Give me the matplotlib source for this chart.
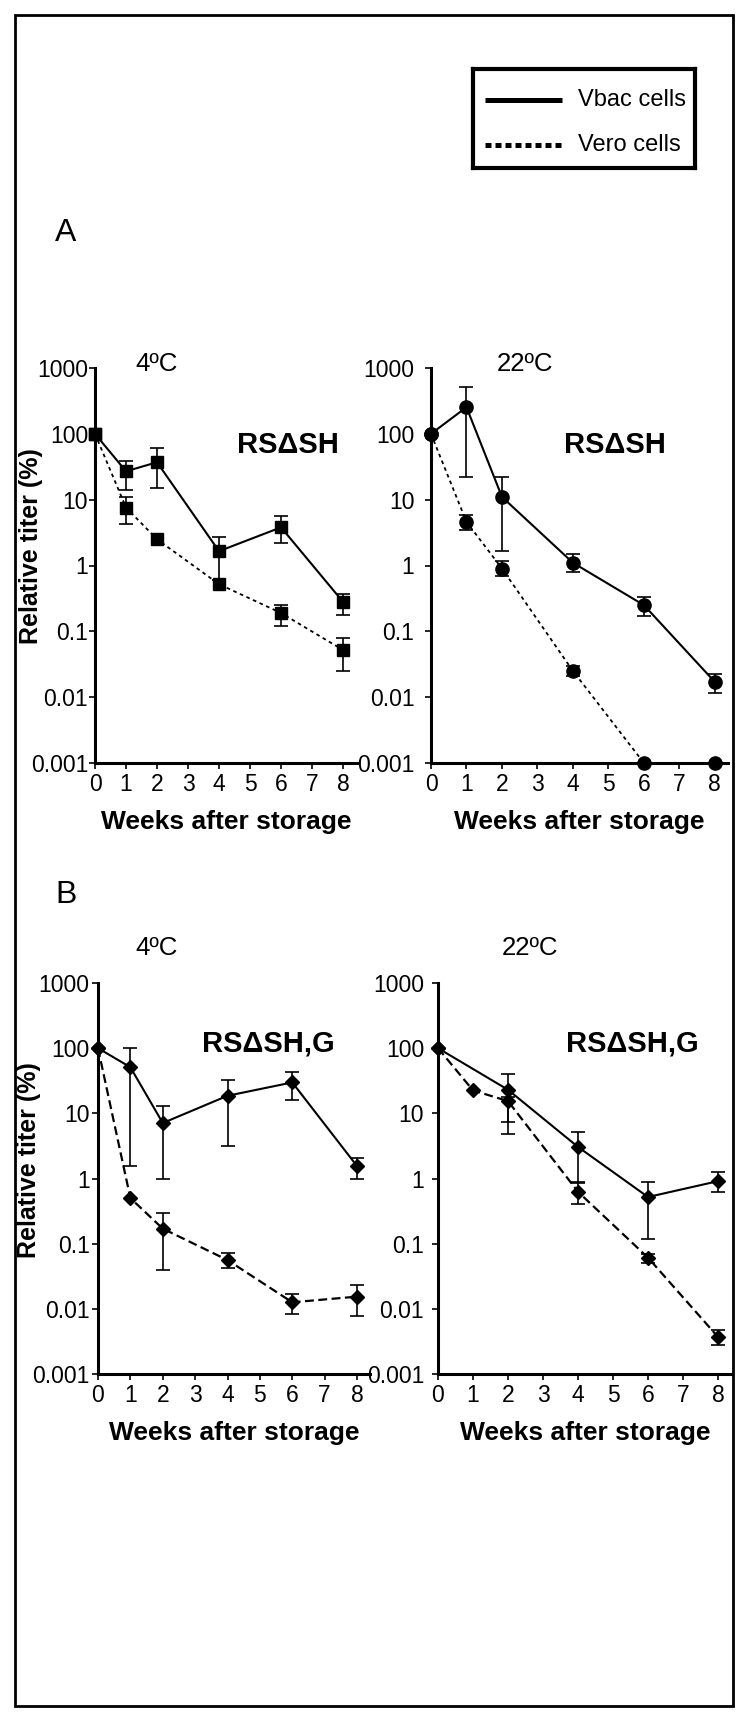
import numpy as np
import matplotlib
matplotlib.use("Agg")
import matplotlib.pyplot as plt
from matplotlib.patches import Rectangle

plt.rcParams['font.family'] = ['Liberation Sans', 'DejaVu Sans']

nan = np.nan

# data (relative titer in %)
weeks = [0, 1, 2, 4, 6, 8]
week_ticks = [0, 1, 2, 3, 4, 5, 6, 7, 8]
titer_ticks = [0.001, 0.01, 0.1, 1, 10, 100, 1000]
titer_labels = ["0.001", "0.01", "0.1", "1", "10", "100", "1000"]

# A, 4 C
vbac_a4 = [100, 27, 37, 1.65, 3.8, 0.28]
vbac_a4_lo = [nan, 14, 15, 0.6, 2.2, 0.18]
vbac_a4_hi = [nan, 39, 60, 2.7, 5.7, 0.37]
vero_a4 = [100, 7.6, 2.5, 0.52, 0.19, 0.052]
vero_a4_lo = [nan, 4.3, nan, nan, 0.12, 0.025]
vero_a4_hi = [nan, 10.8, nan, nan, 0.25, 0.078]

# A, 22 C
vbac_a22 = [100, 254, 11, 1.1, 0.25, 0.017]
vbac_a22_lo = [nan, 22, 1.65, 0.79, 0.17, 0.0116]
vbac_a22_hi = [nan, 518, 22, 1.47, 0.33, 0.0226]
vero_a22 = [100, 4.6, 0.9, 0.025, 0.001, 0.001]
vero_a22_lo = [nan, 3.5, 0.69, 0.021, nan, nan]
vero_a22_hi = [nan, 5.75, 1.16, 0.030, nan, nan]

# B, 4 C
vbac_b4 = [100, 51, 7.1, 18.6, 29.8, 1.55]
vbac_b4_lo = [nan, 1.58, 1.0, 3.2, 15.8, 1.0]
vbac_b4_hi = [nan, 100, 13.1, 32.7, 43, 2.07]
vero_b4 = [100, 0.5, 0.17, 0.056, 0.0126, 0.0154]
vero_b4_lo = [nan, nan, 0.040, 0.042, 0.0082, 0.0078]
vero_b4_hi = [nan, nan, 0.30, 0.071, 0.0169, 0.023]

# B, 22 C (no week 1 point for Vbac)
weeks_b22_vbac = [0, 2, 4, 6, 8]
vbac_b22 = [100, 23, 3.05, 0.52, 0.91]
vbac_b22_lo = [nan, 7.4, 0.87, 0.116, 0.61]
vbac_b22_hi = [nan, 39.5, 5.2, 0.89, 1.24]
vero_b22 = [100, 22.5, 15.4, 0.625, 0.061, 0.0037]
vero_b22_lo = [nan, nan, 4.8, 0.41, 0.050, 0.0028]
vero_b22_hi = [nan, nan, 18, 0.85, 0.070, 0.0047]

W, H = 750.0, 1722.0


def px_axes(fig, left, top, right, bottom):
    # axes from pixel box of the reference
    return fig.add_axes([left / W, 1 - bottom / H, (right - left) / W, (bottom - top) / H])


def draw_series(ax, x, y, lo, hi, marker, ms, ls, lw):
    x = np.array(x, float)
    y = np.array(y, float)
    lo = np.array(lo, float)
    hi = np.array(hi, float)
    ax.plot(x, y, color='black', linestyle=ls, linewidth=lw, marker=marker,
            markersize=ms, markerfacecolor='black', markeredgecolor='black',
            clip_on=False, zorder=3)
    ok = np.isfinite(lo)
    if ok.any():
        yerr = [y[ok] - lo[ok], hi[ok] - y[ok]]
        ax.errorbar(x[ok], y[ok], yerr=yerr, fmt='none', ecolor='black',
                    elinewidth=1.2, capsize=5, capthick=1.2, clip_on=False, zorder=2)


def style_axes(ax, xmax, ypad=1, ylabel_x=None):
    ax.set_yscale('log')
    ax.set_ylim(0.001, 1000)
    ax.set_xlim(0, xmax)
    ax.set_yticks(titer_ticks)
    ax.set_yticklabels(titer_labels)
    ax.minorticks_off()
    ax.set_xticks(week_ticks)
    ax.set_xticklabels([str(w) for w in week_ticks])
    for side in ['top', 'right']:
        ax.spines[side].set_visible(False)
    for side in ['left', 'bottom']:
        ax.spines[side].set_linewidth(2.2)
    ax.tick_params(axis='both', direction='out', length=4, width=1.2,
                   labelsize=16.5, pad=3)
    ax.tick_params(axis='y', pad=ypad)
    ax.set_xlabel("Weeks after storage", fontsize=19, fontweight='bold', labelpad=10)
    if ylabel_x is not None:
        ax.set_ylabel("Relative titer (%)", fontsize=18, fontweight='bold')
        ax.yaxis.label.set_va('center')
        ax.yaxis.set_label_coords(ylabel_x, 0.548)


fig = plt.figure(figsize=(7.5, 17.22), dpi=100)

# outer frame
fig.patches.append(Rectangle((15 / W, 1 - 1706 / H), (733 - 15) / W, (1706 - 15) / H,
                             transform=fig.transFigure, fill=False, lw=2, color='black'))

# legend box
lg = px_axes(fig, 473, 69, 695, 168)
lg.set_xlim(0, 1)
lg.set_ylim(0, 1)
lg.set_xticks([])
lg.set_yticks([])
for s in lg.spines.values():
    s.set_linewidth(3)
lg.plot([0.054, 0.40], [0.687, 0.687], color='black', lw=3.6, solid_capstyle='butt')
lg.plot([0.054, 0.40], [0.232, 0.232], color='black', lw=3.6,
        linestyle=(0, (1.2, 0.8)), dash_capstyle='butt')
lg.text(0.473, 0.687, "Vbac cells", fontsize=17, va='center', ha='left')
lg.text(0.473, 0.232, "Vero cells", fontsize=17, va='center', ha='left')

# panel letters and temperatures
fig.text(55 / W, 1 - 241 / H, "A", fontsize=23, va='baseline', ha='left')
fig.text(55 / W, 1 - 903 / H, "B", fontsize=23, va='baseline', ha='left')
fig.text(157 / W, 1 - 371 / H, "4ºC", fontsize=18.5, va='baseline', ha='center')
fig.text(525 / W, 1 - 371 / H, "22ºC", fontsize=18.5, va='baseline', ha='center')
fig.text(157 / W, 1 - 955 / H, "4ºC", fontsize=18.5, va='baseline', ha='center')
fig.text(530 / W, 1 - 955 / H, "22ºC", fontsize=18.5, va='baseline', ha='center')

dot = (0, (2, 2))
dash = (0, (4, 2))

# A left
ax = px_axes(fig, 95, 368, 357, 763)
draw_series(ax, weeks, vbac_a4, vbac_a4_lo, vbac_a4_hi, 's', 8.5, '-', 1.5)
draw_series(ax, weeks, vero_a4, vero_a4_lo, vero_a4_hi, 's', 8.5, dot, 1.3)
style_axes(ax, 8.45, ypad=1, ylabel_x=-0.244)
ax.text(0.737, 0.785, "RSΔSH", transform=ax.transAxes, fontsize=21,
        fontweight='bold', ha='center', va='baseline')

# A right
ax = px_axes(fig, 431, 368, 728, 763)
draw_series(ax, weeks, vbac_a22, vbac_a22_lo, vbac_a22_hi, 'o', 9.5, '-', 1.5)
draw_series(ax, weeks, vero_a22, vero_a22_lo, vero_a22_hi, 'o', 9.5, dot, 1.3)
style_axes(ax, 8.37, ypad=8)
ax.text(0.62, 0.785, "RSΔSH", transform=ax.transAxes, fontsize=21,
        fontweight='bold', ha='center', va='baseline')

# B left
ax = px_axes(fig, 98, 983, 370, 1374)
draw_series(ax, weeks, vbac_b4, vbac_b4_lo, vbac_b4_hi, 'D', 7, '-', 1.5)
draw_series(ax, weeks, vero_b4, vero_b4_lo, vero_b4_hi, 'D', 7, dash, 1.6)
style_axes(ax, 8.4, ypad=2, ylabel_x=-0.254)
ax.text(0.625, 0.824, "RSΔSH,G", transform=ax.transAxes, fontsize=21,
        fontweight='bold', ha='center', va='baseline')

# B right
ax = px_axes(fig, 438, 983, 732, 1374)
draw_series(ax, weeks_b22_vbac, vbac_b22, vbac_b22_lo, vbac_b22_hi, 'D', 7, '-', 1.5)
draw_series(ax, weeks, vero_b22, vero_b22_lo, vero_b22_hi, 'D', 7, dash, 1.6)
style_axes(ax, 8.4, ypad=6)
ax.text(0.66, 0.824, "RSΔSH,G", transform=ax.transAxes, fontsize=21,
        fontweight='bold', ha='center', va='baseline')

plt.savefig("out.png", dpi=100)
